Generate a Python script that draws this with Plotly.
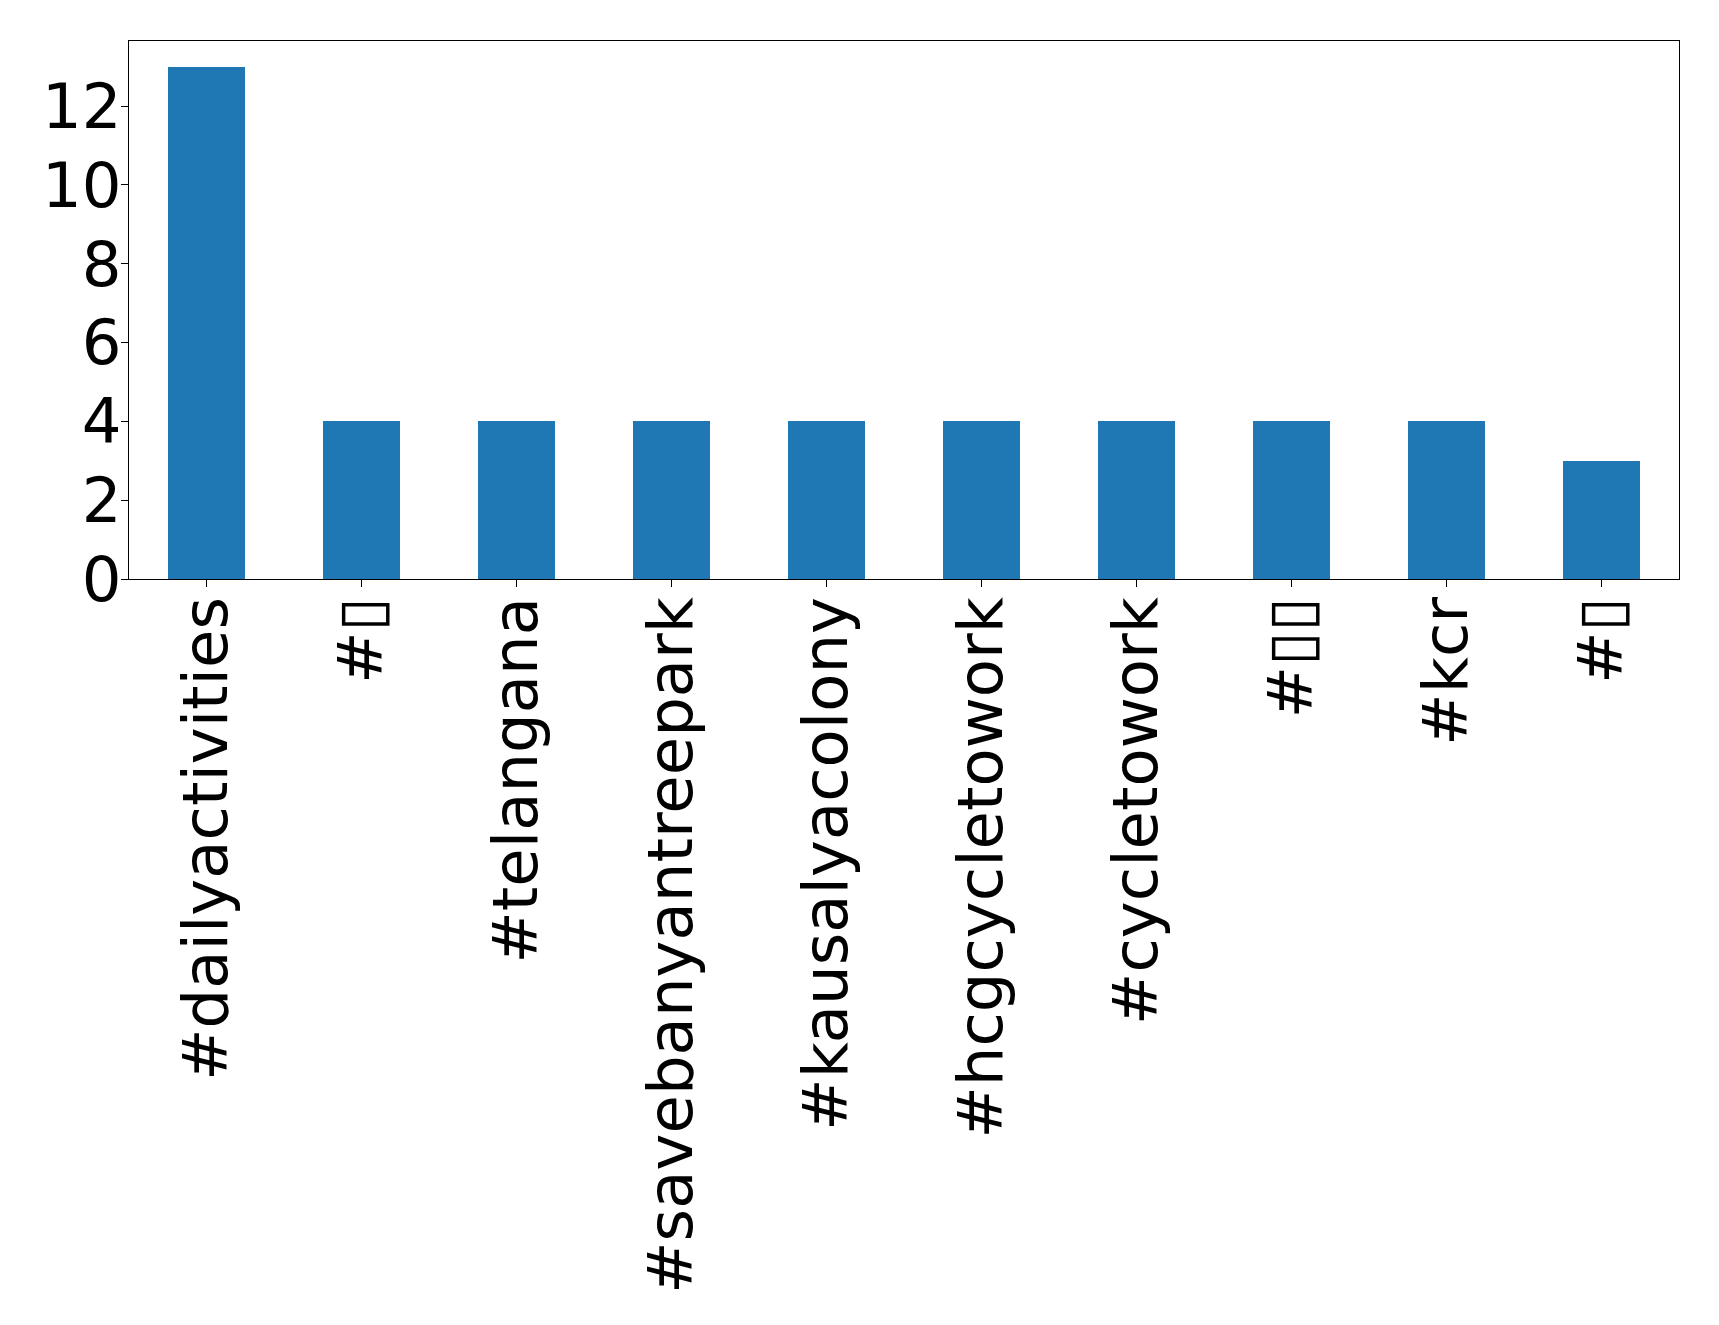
import plotly.graph_objects as go

hashtags = ["#dailyactivities", "#▯", "#telangana", "#savebanyantreepark",
            "#kausalyacolony", "#hcgcycletowork", "#cycletowork", "#▯▯",
            "#kcr", "#▯"]
counts = [13, 4, 4, 4, 4, 4, 4, 4, 4, 3]
y_ticks = [0, 2, 4, 6, 8, 10, 12]

fig = go.Figure(go.Bar(
    x=list(range(len(hashtags))), y=counts, width=0.5,
    marker=dict(color="#1f77b4", line=dict(width=0)),
))

fig.update_layout(
    width=1719, height=1325, autosize=False,
    margin=dict(l=121, r=48, t=33, b=754),
    plot_bgcolor="white", paper_bgcolor="white",
    font=dict(family="DejaVu Sans", size=62.5, color="black"),
    showlegend=False,
    bargap=0,
)
fig.update_xaxes(
    range=[-0.5, 9.5], tickmode="array",
    tickvals=list(range(len(hashtags))), ticktext=hashtags,
    tickangle=-90, ticks="outside", ticklen=7, tickwidth=1, tickcolor="black",
    showline=True, linecolor="black", linewidth=1, mirror=True,
    showgrid=False, zeroline=False, automargin=False,
    ticklabelstandoff=-15,
    tickfont=dict(family="DejaVu Sans", size=62.5, color="black"),
)
fig.update_yaxes(
    range=[0, 13.65], tickmode="array", tickvals=y_ticks,
    ticktext=[str(v) for v in y_ticks],
    ticks="outside", ticklen=7, tickwidth=1, tickcolor="black",
    showline=True, linecolor="black", linewidth=1, mirror=True,
    showgrid=False, zeroline=False, automargin=False,
    ticklabelstandoff=-13,
    tickfont=dict(family="DejaVu Sans", size=62.5, color="black"),
)

fig.write_html("out.html")
